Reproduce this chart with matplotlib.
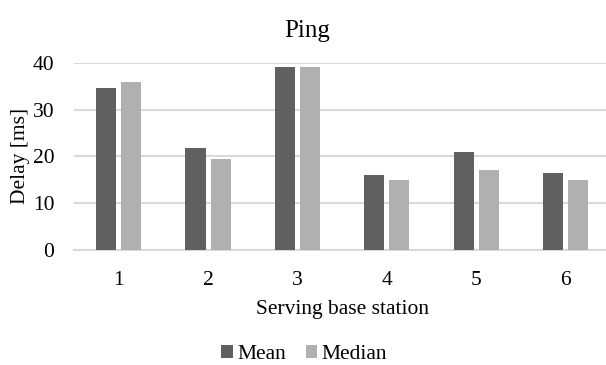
import matplotlib
matplotlib.use("Agg")
import matplotlib.pyplot as plt
import numpy as np

stations = ["1", "2", "3", "4", "5", "6"]
mean_delay = [34.7, 21.9, 39.0, 16.0, 21.0, 16.4]
median_delay = [36.0, 19.5, 39.0, 15.0, 17.0, 15.0]

plt.rcParams["font.family"] = ["Liberation Serif", "DejaVu Serif"]

fig = plt.figure(figsize=(6.06, 3.65), dpi=100)
ax = fig.add_axes([0.122, 0.315, 0.885, 0.513])

x = np.arange(len(stations))
w = 0.224
ax.bar(x - 0.14, mean_delay, w, color="#606060", label="Mean", zorder=3)
ax.bar(x + 0.14, median_delay, w, color="#b0b0b0", label="Median", zorder=3)

ax.set_xlim(-0.5, len(stations) - 0.5)
ax.set_ylim(0, 40)
ax.set_yticks([0, 10, 20, 30, 40])
ax.set_xticks(x)
ax.set_xticklabels(stations)
ax.yaxis.grid(True, color="#d9d9d9", linewidth=1.5, zorder=0)
for s in ["top", "right", "left"]:
    ax.spines[s].set_visible(False)
ax.spines["bottom"].set_color("#d9d9d9")
ax.spines["bottom"].set_linewidth(1.5)
ax.tick_params(length=0, labelsize=15.5)
ax.tick_params(axis="y", pad=14)
ax.tick_params(axis="x", pad=15)
ax.set_xlabel("Serving base station", fontsize=15.5, labelpad=7)
ax.set_ylabel("Delay [ms]", fontsize=15.5, labelpad=2)
fig.text(0.507, 0.915, "Ping", ha="center", va="center", fontsize=18)

fig.legend(loc="center", bbox_to_anchor=(0.502, 0.028), ncol=2, frameon=False,
           fontsize=15.5, handlelength=0.55, handleheight=0.55, handletextpad=0.2,
           columnspacing=0.9)

fig.savefig("out.png", dpi=100)
